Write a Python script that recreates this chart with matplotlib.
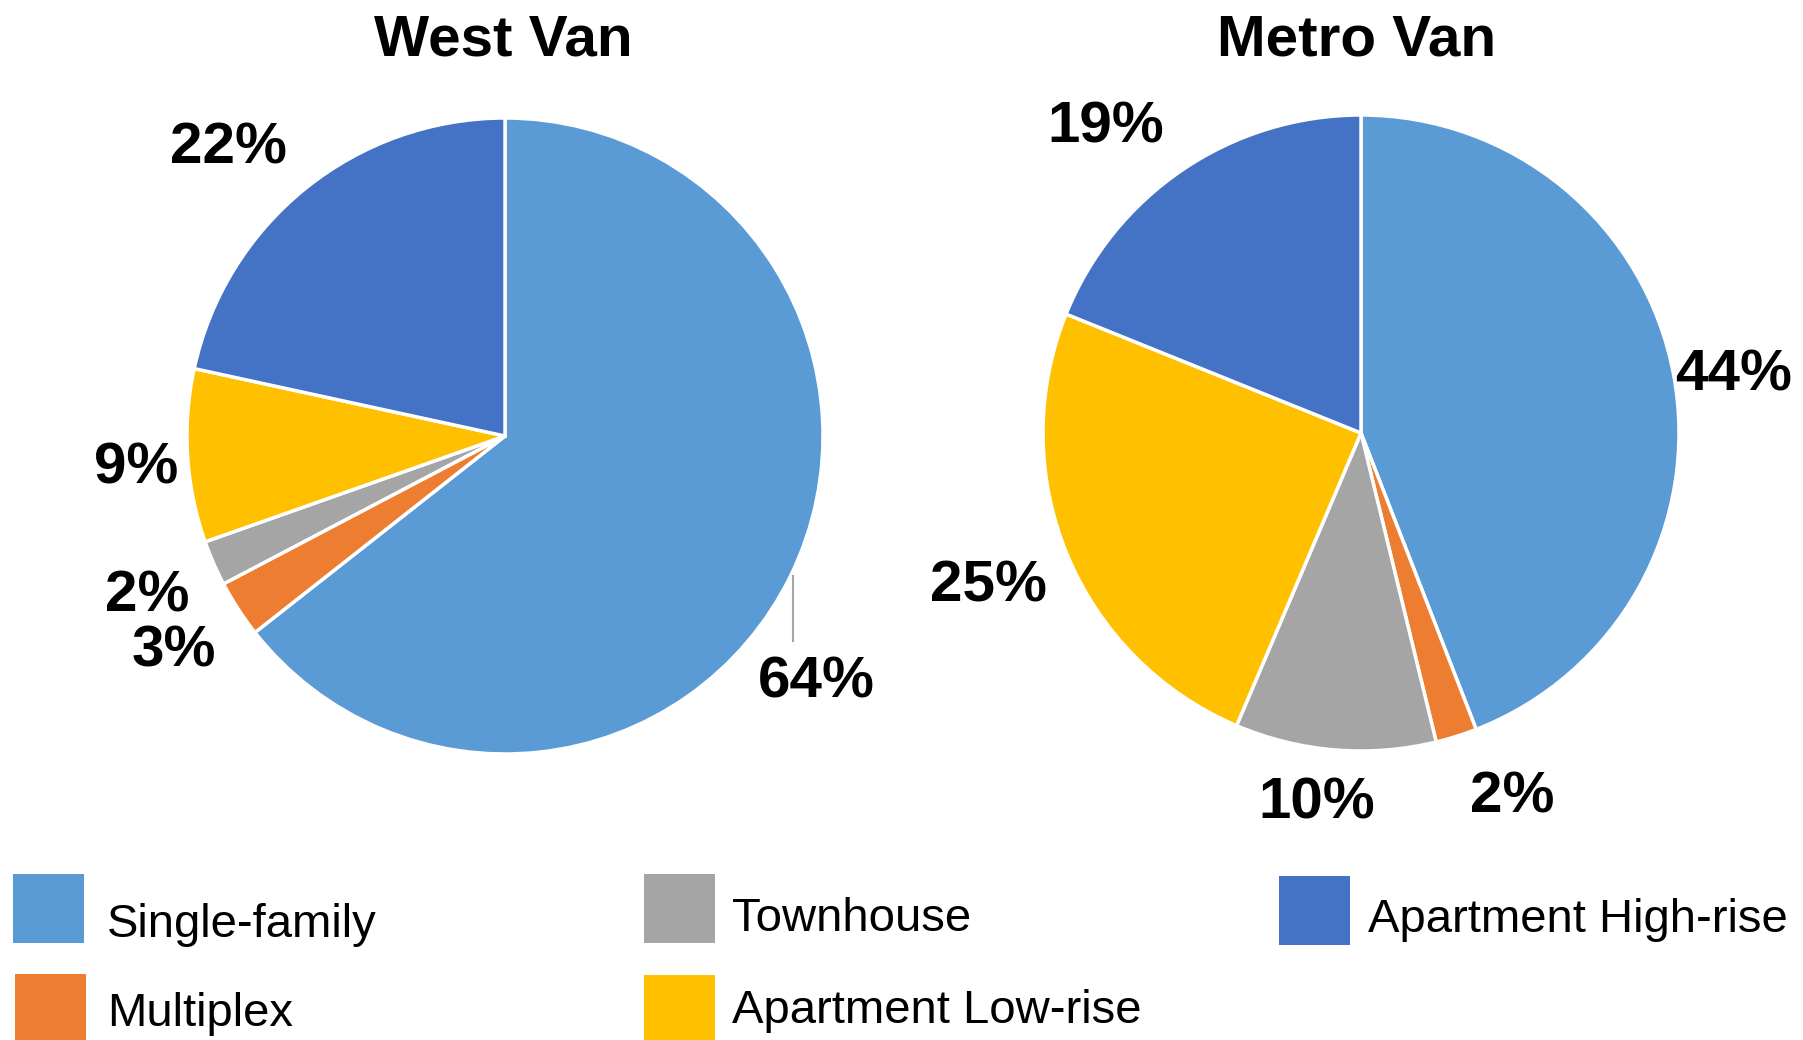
import matplotlib
matplotlib.use("Agg")
import matplotlib.pyplot as plt
from matplotlib.patches import Rectangle

plt.rcParams['font.family'] = ['Liberation Sans', 'DejaVu Sans']

# Data
categories = ["Single-family", "Multiplex", "Townhouse", "Apartment Low-rise", "Apartment High-rise"]
west_van = [64.4, 2.9, 2.3, 8.8, 21.6]
metro_van = [44.1, 2.1, 10.2, 24.7, 18.9]
titles = ["West Van", "Metro Van"]

colors = ["#5B9BD5", "#ED7D31", "#A5A5A5", "#FFC000", "#4472C4"]

W, H = 1803, 1040
fig = plt.figure(figsize=(W / 100, H / 100), dpi=100)

# pie placement in pixels: center x, center y (from top), radius
pie_geom = [(505, 436, 318), (1361, 433, 318)]
# label baseline positions, in pie radius units
label_pos = [
    [(0.978, -0.821), (-1.041, -0.726), (-1.126, -0.553), (-1.160, -0.148), (-0.871, 0.858)],
    [(1.173, 0.135), (0.475, -1.192), (-0.138, -1.211), (-1.173, -0.531), (-0.802, 0.912)],
]
title_pos = [(503, 55), (1357, 55)]

for values, (cx, cy, r), lpos in zip([west_van, metro_van], pie_geom, label_pos):
    ax = fig.add_axes([(cx - r) / W, (H - cy - r) / H, 2 * r / W, 2 * r / H])
    wedges, texts, autotexts = ax.pie(values, colors=colors, startangle=90, counterclock=False,
                                      autopct='%.0f%%', radius=1,
                                      wedgeprops=dict(edgecolor='white', linewidth=2.5))
    for t, (x, y) in zip(autotexts, lpos):
        t.set_position((x, y))
        t.set_fontsize(42)
        t.set_fontweight('bold')
        t.set_color('black')
        t.set_ha('center')
        t.set_va('baseline')
        t.set_clip_on(False)
    ax.set_xlim(-1, 1)
    ax.set_ylim(-1, 1)
    ax.set_aspect('equal')
    ax.axis('off')
    if values is west_van:
        # leader line for the big slice
        ax.plot([0.906, 0.906], [-0.440, -0.645], color='#A6A6A6', linewidth=1.5, clip_on=False)

# overlay in pixel coords for titles and legend
ov = fig.add_axes([0, 0, 1, 1])
ov.set_xlim(0, W)
ov.set_ylim(H, 0)
ov.axis('off')
ov.patch.set_alpha(0)

for title, (x, y) in zip(titles, title_pos):
    ov.text(x, y, title, fontsize=42, fontweight='bold', ha='center', va='baseline')

# legend boxes: x, y, w, h and text x, baseline
legend_boxes = [(13, 874, 71, 69), (15, 974, 71, 66), (644, 874, 71, 69), (644, 975, 71, 65), (1279, 876, 71, 69)]
legend_text = [(107, 937), (107, 1026), (732, 931), (732, 1023), (1368, 932)]
for cat, col, (bx, by, bw, bh), (tx, ty) in zip(categories, colors, legend_boxes, legend_text):
    ov.add_patch(Rectangle((bx, by), bw, bh, facecolor=col, edgecolor='none'))
    ov.text(tx, ty, cat, fontsize=34, ha='left', va='baseline')

fig.savefig("out.png", dpi=100)
